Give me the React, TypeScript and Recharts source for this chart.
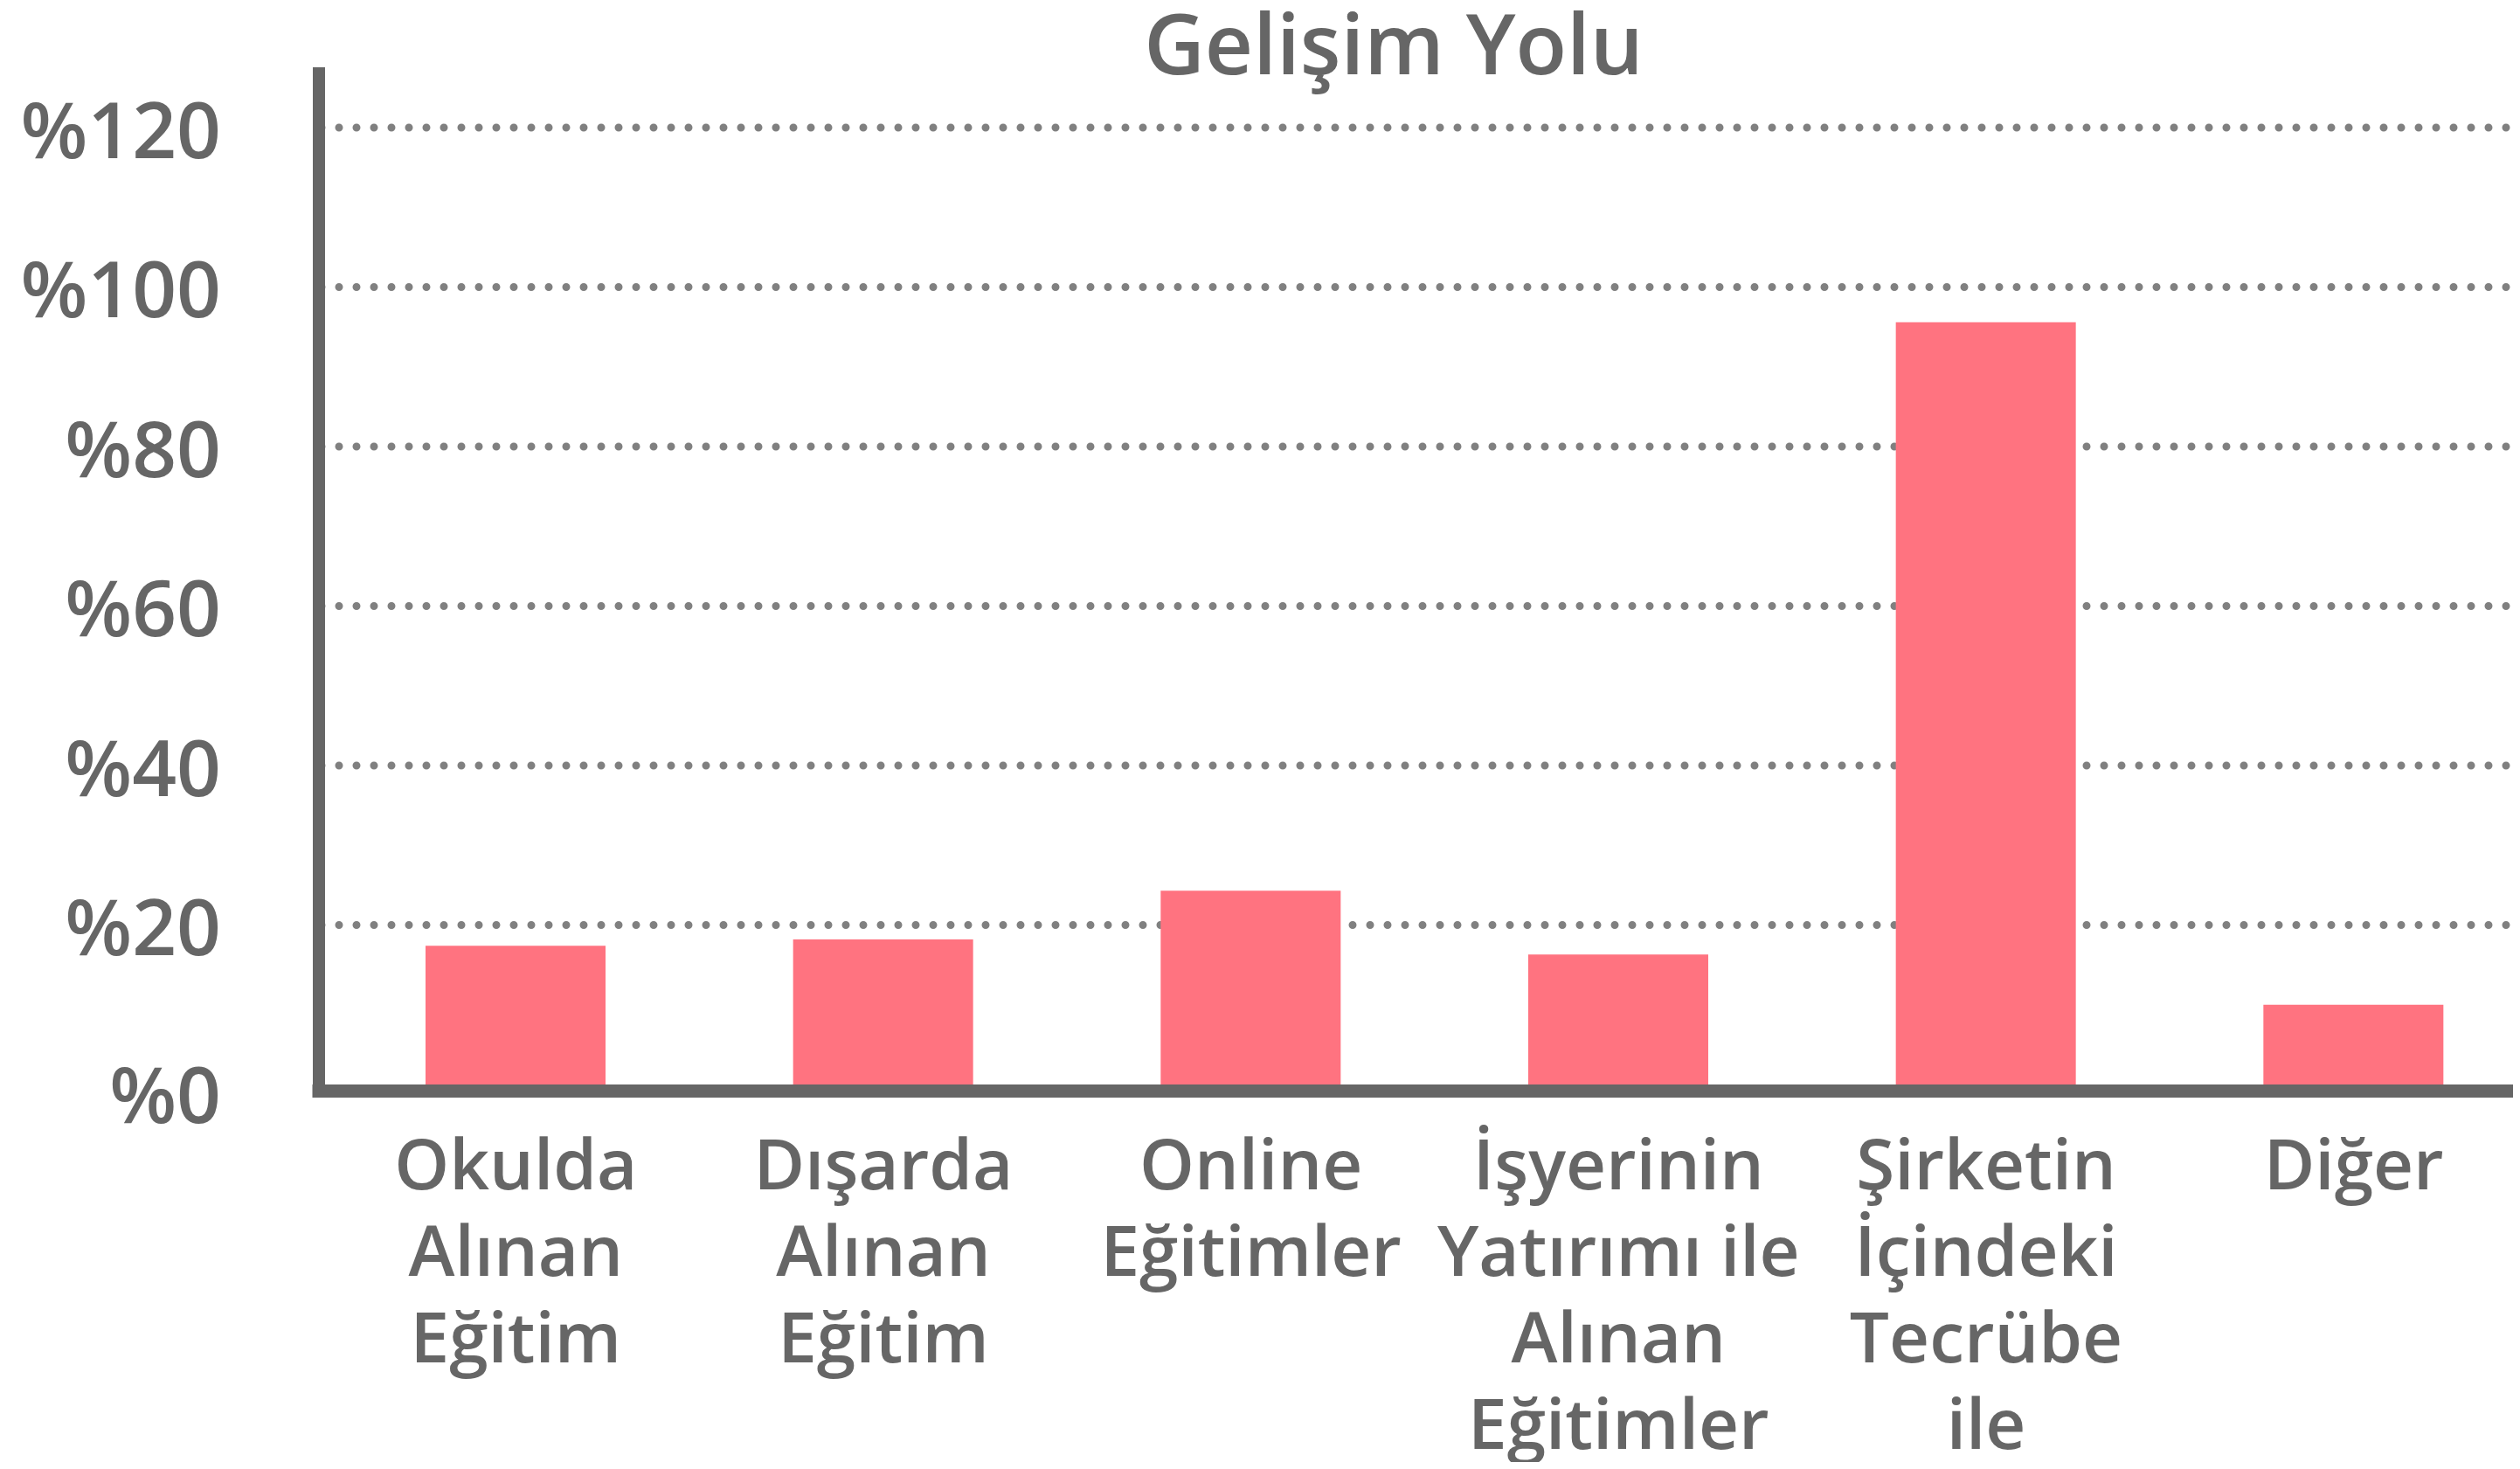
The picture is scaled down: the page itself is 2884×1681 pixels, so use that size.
import React from 'react';
import { BarChart, Bar, XAxis, YAxis, CartesianGrid } from 'recharts';

const categories = [
  'Okulda Alınan Eğitim',
  'Dışarda Alınan Eğitim',
  'Online Eğitimler',
  'İşyerinin Yatırımı ile Alınan Eğitimler',
  'Şirketin İçindeki Tecrübe ile',
  'Diğer',
];
const labelLines = [
  ['Okulda', 'Alınan', 'Eğitim'],
  ['Dışarda', 'Alınan', 'Eğitim'],
  ['Online', 'Eğitimler'],
  ['İşyerinin', 'Yatırımı ile', 'Alınan', 'Eğitimler'],
  ['Şirketin', 'İçindeki', 'Tecrübe', 'ile'],
  ['Diğer'],
];
const values = [17.4, 18.2, 24.3, 16.3, 95.6, 10.0];
const yTicks = [0, 20, 40, 60, 80, 100, 120];
const gridValues = [20, 40, 60, 80, 100, 120];
const title = 'Gelişim Yolu';

const data = categories.map((c, i) => ({ name: c, value: values[i] }));

const FONT = '"Open Sans", sans-serif';
const TEXT = '#666666';
const WEIGHT = 600;

function XTick(props: any) {
  const { x, y, payload } = props;
  const idx = categories.indexOf(payload.value);
  const lines = labelLines[idx] || [payload.value];
  return (
    <text x={x} y={y} textAnchor="middle" fill={TEXT} fontFamily={FONT} fontSize={80} fontWeight={WEIGHT}>
      {lines.map((l, i) => (
        <tspan key={i} x={x} y={y + 112 + i * 99.3}>
          {l}
        </tspan>
      ))}
    </text>
  );
}

function YTick(props: any) {
  const { x, y, payload } = props;
  const dy = payload.value === 0 ? 44 : 34.5;
  return (
    <text x={x - 112} y={y + dy} textAnchor="end" fill={TEXT} fontFamily={FONT} fontSize={89} fontWeight={WEIGHT}>
      {'%' + payload.value}
    </text>
  );
}

export default function App() {
  return (
    <div style={{ position: 'relative', width: 2876, height: 1673, overflow: 'hidden', marginBottom: -8 }}>
      <BarChart width={2896} height={1673} data={data} margin={{ top: 76, right: 0, bottom: 0, left: 0 }}>
        <CartesianGrid
          vertical={false}
          horizontalValues={gridValues}
          syncWithTicks
          stroke="#808080"
          strokeWidth={9}
          strokeDasharray="0 20"
          strokeLinecap="round"
          strokeDashoffset={-3}
        />
        <XAxis
          dataKey="name"
          type="category"
          height={432.5}
          padding={{ left: 15, right: 0 }}
          tickLine={false}
          tickSize={0}
          tickMargin={0}
          interval={0}
          tick={<XTick />}
          axisLine={{ stroke: '#666666', strokeWidth: 15, strokeLinecap: 'square' }}
        />
        <YAxis
          type="number"
          width={357}
          domain={[0, 126.8]}
          ticks={yTicks}
          interval={0}
          padding={{ top: 0, bottom: 7.5 }}
          tickLine={false}
          tickSize={0}
          tickMargin={0}
          tick={<YTick />}
          axisLine={{ stroke: '#666666', strokeWidth: 14, strokeLinecap: 'square' }}
        />
        <Bar dataKey="value" fill="#FF7380" barSize={206} isAnimationActive={false} />
      </BarChart>
      <svg width={2876} height={200} style={{ position: 'absolute', left: 0, top: 0, pointerEvents: 'none' }}>
        <text x={1587} y={77} textAnchor="middle" fill={TEXT} fontFamily={FONT} fontSize={96} fontWeight={WEIGHT}>
          {title}
        </text>
      </svg>
    </div>
  );
}
